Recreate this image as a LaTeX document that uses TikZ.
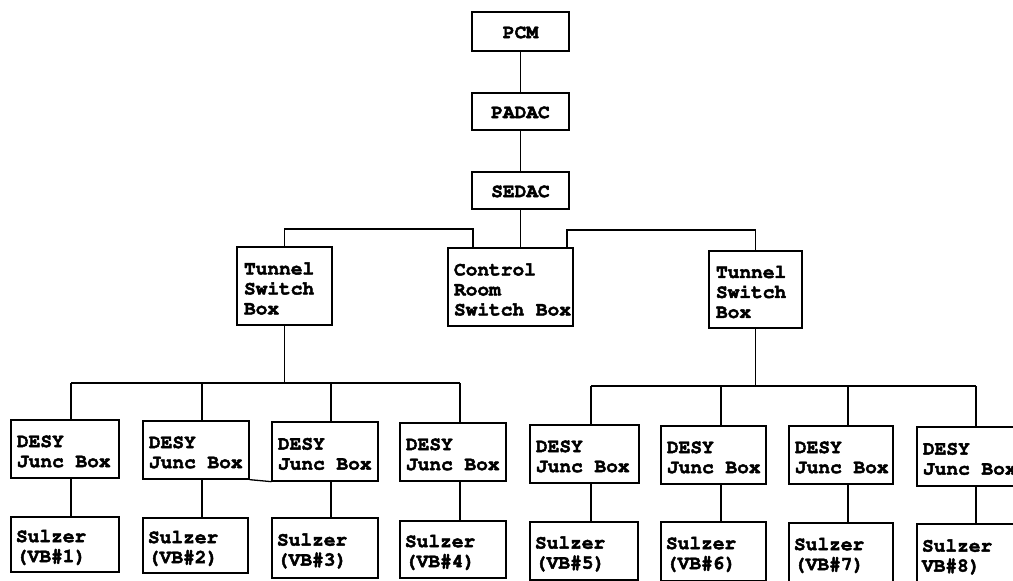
\documentclass[tikz,border=0pt]{standalone}
\usepackage{fontspec}
\usetikzlibrary{calc}
\makeatletter
\newcommand\heavy{\pgfsys@invoke{2 Tr 0.45 w}}
\makeatother
\newcommand\courb{\fontencoding{T1}\fontfamily{pcr}\fontseries{b}\selectfont\fontsize{19.5pt}{20pt}\selectfont}
\tikzset{
  box/.style={draw, line width=1.3pt, inner sep=0pt, font=\courb},
  wire/.style={line width=1.3pt},
}
% \bx{name}{x1}{y1}{x2}{y2}{left inset}{text}   (left aligned text)
\newcommand\bx[7]{%
  \pgfmathsetmacro\bxcx{(#2+#4)/2}%
  \pgfmathsetmacro\bxcy{(#3+#5)/2}%
  \pgfmathsetmacro\bxw{#4-#2}%
  \pgfmathsetmacro\bxh{#5-#3}%
  \node[box, minimum width=\bxw pt, minimum height=\bxh pt] (#1) at (\bxcx,\bxcy)
    {\heavy\parbox[c][\bxh pt][c]{\bxw pt}{\vspace*{5pt}\leftskip=#6pt\relax #7}};}
% \cb{name}{x1}{y1}{x2}{y2}{text}   (centred text)
\newcommand\cb[6]{%
  \pgfmathsetmacro\bxcx{(#2+#4)/2}%
  \pgfmathsetmacro\bxcy{(#3+#5)/2}%
  \pgfmathsetmacro\bxw{#4-#2}%
  \pgfmathsetmacro\bxh{#5-#3}%
  \node[box, minimum width=\bxw pt, minimum height=\bxh pt] (#1) at (\bxcx,\bxcy)
    {\heavy\parbox[c][\bxh pt][c]{\bxw pt}{\vspace*{2pt}\centering #6}};}
\begin{document}
\begin{tikzpicture}[x=1pt,y=-1pt]
\path[use as bounding box] (0,0) rectangle (1013,581);
\fill[white] (0,0) rectangle (1013,581);
\clip (0,0) rectangle (1013,581);

% top chain
\cb{pcm}{472}{12}{569}{51}{PCM}
\cb{padac}{472}{93}{569}{130}{PADAC}
\cb{sedac}{472}{172}{569}{209}{SEDAC}

% switch boxes
\bx{tl}{237}{247}{332}{325}{7}{Tunnel\\Switch\\Box}
\bx{cr}{448}{248}{573}{326}{6}{Control\\Room\\Switch Box}
\bx{tr}{709}{251}{802}{328}{7}{Tunnel\\Switch\\Box}

% junction boxes
\bx{d1}{11}{420}{119}{478}{6}{DESY\\Junc Box}
\bx{d2}{143}{421}{249}{479}{6}{DESY\\Junc Box}
\bx{d3}{272}{422}{378}{481}{6}{DESY\\Junc Box}
\bx{d4}{400}{423}{506}{481}{6}{DESY\\Junc Box}
\bx{d5}{530}{425}{639}{483}{6}{DESY\\Junc Box}
\bx{d6}{661}{426}{766}{484}{6}{DESY\\Junc Box}
\bx{d7}{789}{426}{893}{484}{6}{DESY\\Junc Box}
\bx{d8}{917}{427}{1024}{486}{6}{DESY\\Junc Box}

% sulzer boxes
\bx{s1}{11}{517}{119}{572}{5}{Sulzer\\(VB\#1)}
\bx{s2}{143}{518}{248}{573}{5}{Sulzer\\(VB\#2)}
\bx{s3}{272}{518}{378}{578}{5}{Sulzer\\(VB\#3)}
\bx{s4}{400}{521}{506}{578}{5}{Sulzer\\(VB\#4)}
\bx{s5}{530}{522}{638}{580}{5}{Sulzer\\(VB\#5)}
\bx{s6}{661}{522}{766}{581}{5}{Sulzer\\(VB\#6)}
\bx{s7}{789}{523}{893}{582}{5}{Sulzer\\(VB\#7)}
\bx{s8}{917}{524}{1024}{584}{5}{Sulzer\\VB\#8)}

% junction coordinates
\coordinate (jl) at (473,229);
\coordinate (jr) at (567,230);
\coordinate (bl1) at (71,383);
\coordinate (bl2) at (202,383);
\coordinate (bl3) at (331,383);
\coordinate (bl4) at (460,383);
\coordinate (br1) at (591,386);
\coordinate (br2) at (721,386);
\coordinate (br3) at (848,386);
\coordinate (br4) at (976,386);

% connectors
\draw[wire] (pcm) -- (padac);
\draw[wire] (padac) -- (sedac);
\draw[wire] (sedac.south) -- (sedac.south |- cr.north);
\draw[wire] (jl |- cr.north) -- (jl) -| (tl.north);
\draw[wire] (jr |- cr.north) -- (jr) -| (tr.north);

\draw[wire] (tl.south) -- (tl.south |- bl1);
\draw[wire] (bl1) -- (bl4);
\draw[wire] (tr.south) -- (tr.south |- br1);
\draw[wire] (br1) -- (br4);

\foreach \k in {1,2,3,4}{
  \draw[wire] (bl\k) -- (bl\k |- d\k.north);
  \draw[wire] (bl\k |- d\k.south) -- (bl\k |- s\k.north);
}
\foreach \k/\m in {1/5,2/6,3/7,4/8}{
  \draw[wire] (br\k) -- (br\k |- d\m.north);
  \draw[wire] (br\k |- d\m.south) -- (br\k |- s\m.north);
}
\draw[wire] (d2.south east) -- (d3.south west);
\end{tikzpicture}
\end{document}
